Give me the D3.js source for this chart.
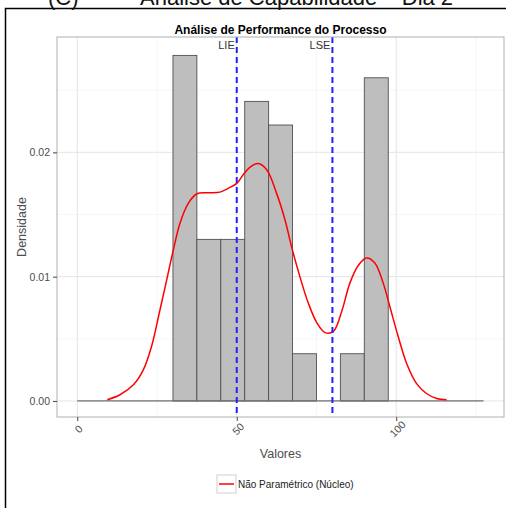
<!DOCTYPE html>
<html>
<head>
<meta charset="utf-8">
<script src="https://cdn.jsdelivr.net/npm/d3@7"></script>
<style>
  body { margin: 0; background: white; }
  text { font-family: "Liberation Sans", Arial, sans-serif; }
</style>
</head>
<body>
<div id="chart"></div>
<script>
// histogram bins (edges) and their densities
const binEdges = [30, 37.5, 45, 52.5, 60, 67.5, 75, 82.5, 90, 97.5];
const binDensity = [0.0278, 0.0130, 0.0130, 0.0241, 0.0222, 0.0038, 0, 0.0038, 0.0260];

// kernel density curve
const kdeX = [9.4, 13.4, 17.6, 20.7, 23.3, 25.9, 28.0, 29.9, 32.2, 34.8, 37.4, 40.6, 44.7, 47.3, 50.0,
  52.0, 54.1, 56.7, 59.4, 62.5, 65.1, 67.2, 69.8, 72.4, 75.1, 77.7, 80.3, 82.9, 85.5, 88.1,
  90.7, 93.3, 95.9, 98.0, 100.6, 103.3, 106.4, 109.5, 112.7, 115.8];
const kdeY = [0.0001, 0.0005, 0.0013, 0.0025, 0.0044, 0.0073, 0.0097, 0.0119, 0.0143, 0.0159, 0.01665, 0.01675, 0.0168, 0.0171, 0.0175,
  0.0182, 0.0188, 0.0191, 0.0186, 0.0167, 0.0146, 0.0124, 0.0100, 0.0079, 0.0063, 0.0055, 0.0056, 0.0072, 0.0095, 0.0109,
  0.0115, 0.0111, 0.0095, 0.0076, 0.0052, 0.0030, 0.0014, 0.0006, 0.0002, 0.0001];

const specLimits = [{ label: "LIE", value: 50 }, { label: "LSE", value: 80 }];
const dataRange = [0, 127.4];

const xTicks = [0, 50, 100];
const xMinor = [25, 75, 125];
const yTicks = [0, 0.01, 0.02];
const yMinor = [0.005, 0.015, 0.025];

const W = 506, H = 508;
const P = { left: 57, right: 504, top: 37, bottom: 417 };

const svg = d3.select("#chart").append("svg")
  .attr("width", W).attr("height", H);

const x = d3.scaleLinear().domain([-6.36, 133.8]).range([P.left, P.right]);
const y = d3.scaleLinear().domain([-0.00129, 0.02928]).range([P.bottom, P.top]);

// outer frame
svg.append("path")
  .attr("d", `M5.5,${H} L5.5,8.5 L${W},8.5`)
  .attr("fill", "none").attr("stroke", "black").attr("stroke-width", 1.5);

// page title (cut off at the top, as in the source image)
svg.append("text").attr("x", 48).attr("y", 5).style("font-size", "22px").attr("fill", "#111").text("(C)");
svg.append("text").attr("x", 140).attr("y", 5).style("font-size", "22px").attr("fill", "#111")
  .text("Análise de Capabilidade  –  Dia 2");

// chart title
svg.append("text")
  .attr("x", (P.left + P.right) / 2).attr("y", 34)
  .attr("text-anchor", "middle")
  .style("font-size", "12px").style("font-weight", 700)
  .text("Análise de Performance do Processo");

// grid
const grid = svg.append("g");
grid.selectAll(".xminor").data(xMinor).enter().append("line")
  .attr("x1", d => x(d)).attr("x2", d => x(d)).attr("y1", P.top).attr("y2", P.bottom)
  .attr("stroke", "#f4f4f4").attr("stroke-width", 0.8);
grid.selectAll(".yminor").data(yMinor).enter().append("line")
  .attr("y1", d => y(d)).attr("y2", d => y(d)).attr("x1", P.left).attr("x2", P.right)
  .attr("stroke", "#f4f4f4").attr("stroke-width", 0.8);
grid.selectAll(".xmajor").data(xTicks).enter().append("line")
  .attr("x1", d => x(d)).attr("x2", d => x(d)).attr("y1", P.top).attr("y2", P.bottom)
  .attr("stroke", "#e5e5e5").attr("stroke-width", 1);
grid.selectAll(".ymajor").data(yTicks).enter().append("line")
  .attr("y1", d => y(d)).attr("y2", d => y(d)).attr("x1", P.left).attr("x2", P.right)
  .attr("stroke", "#e5e5e5").attr("stroke-width", 1);

// histogram bars
const bins = binDensity.map((d, i) => ({ x0: binEdges[i], x1: binEdges[i + 1], d }));
svg.append("g").selectAll("rect").data(bins).enter().append("rect")
  .attr("x", d => x(d.x0)).attr("width", d => x(d.x1) - x(d.x0))
  .attr("y", d => y(d.d)).attr("height", d => y(0) - y(d.d))
  .attr("fill", "#bebebe").attr("stroke", "#505050").attr("stroke-width", 0.9);

// zero baseline
svg.append("line")
  .attr("x1", x(dataRange[0])).attr("x2", x(dataRange[1]))
  .attr("y1", y(0)).attr("y2", y(0))
  .attr("stroke", "#707070").attr("stroke-width", 1.2);

// density curve
const kde = kdeX.map((v, i) => [v, kdeY[i]]);
svg.append("path").datum(kde)
  .attr("d", d3.line().x(d => x(d[0])).y(d => y(d[1])).curve(d3.curveCatmullRom))
  .attr("fill", "none").attr("stroke", "#ff0000").attr("stroke-width", 1.5);

// spec limits
svg.append("g").selectAll("line").data(specLimits).enter().append("line")
  .attr("x1", d => x(d.value)).attr("x2", d => x(d.value))
  .attr("y1", P.top).attr("y2", P.bottom)
  .attr("stroke", "#2020ff").attr("stroke-width", 2).attr("stroke-dasharray", "6,4");
svg.append("g").selectAll("text").data(specLimits).enter().append("text")
  .attr("x", d => x(d.value) - 2).attr("y", 49)
  .attr("text-anchor", "end")
  .style("font-size", "11px").attr("fill", "#333")
  .text(d => d.label);

// panel border
svg.append("rect")
  .attr("x", P.left).attr("y", P.top)
  .attr("width", P.right - P.left).attr("height", P.bottom - P.top)
  .attr("fill", "none").attr("stroke", "#b0b0b0").attr("stroke-width", 1);

// y axis
const yAxis = svg.append("g").attr("transform", `translate(${P.left},0)`)
  .call(d3.axisLeft(y).tickValues(yTicks).tickFormat(d3.format(".2f")).tickSize(4).tickPadding(3));
yAxis.select(".domain").remove();
yAxis.selectAll("line").attr("stroke", "#444");
yAxis.selectAll("text").style("font-size", "10.5px").attr("fill", "#4d4d4d")
  .style("font-family", "'Liberation Sans', Arial, sans-serif");

// x axis
const xAxis = svg.append("g").attr("transform", `translate(0,${P.bottom})`)
  .call(d3.axisBottom(x).tickValues(xTicks).tickFormat(d3.format("d")).tickSize(4));
xAxis.select(".domain").remove();
xAxis.selectAll("line").attr("stroke", "#444");
xAxis.selectAll("text")
  .attr("y", 0).attr("dy", "0.35em")
  .attr("text-anchor", "middle")
  .attr("transform", "translate(1,12) rotate(-45)")
  .style("font-size", "10.5px").attr("fill", "#4d4d4d")
  .style("font-family", "'Liberation Sans', Arial, sans-serif");

// axis titles
svg.append("text")
  .attr("x", (P.left + P.right) / 2).attr("y", 458)
  .attr("text-anchor", "middle")
  .style("font-size", "12.5px").attr("fill", "#4d4d4d")
  .text("Valores");
svg.append("text")
  .attr("transform", `translate(26,${(P.top + P.bottom) / 2}) rotate(-90)`)
  .attr("text-anchor", "middle")
  .style("font-size", "12.5px").attr("fill", "#4d4d4d")
  .text("Densidade");

// legend
const lg = svg.append("g").attr("transform", "translate(217,475)");
lg.append("rect").attr("width", 19).attr("height", 18)
  .attr("fill", "white").attr("stroke", "#cfcfcf").attr("stroke-width", 1);
lg.append("line").attr("x1", 2).attr("x2", 17).attr("y1", 9).attr("y2", 9)
  .attr("stroke", "#ff0000").attr("stroke-width", 1.5);
lg.append("text").attr("x", 21).attr("y", 13)
  .style("font-size", "10px").attr("fill", "#222")
  .text("Não Paramétrico (Núcleo)");
</script>
</body>
</html>
